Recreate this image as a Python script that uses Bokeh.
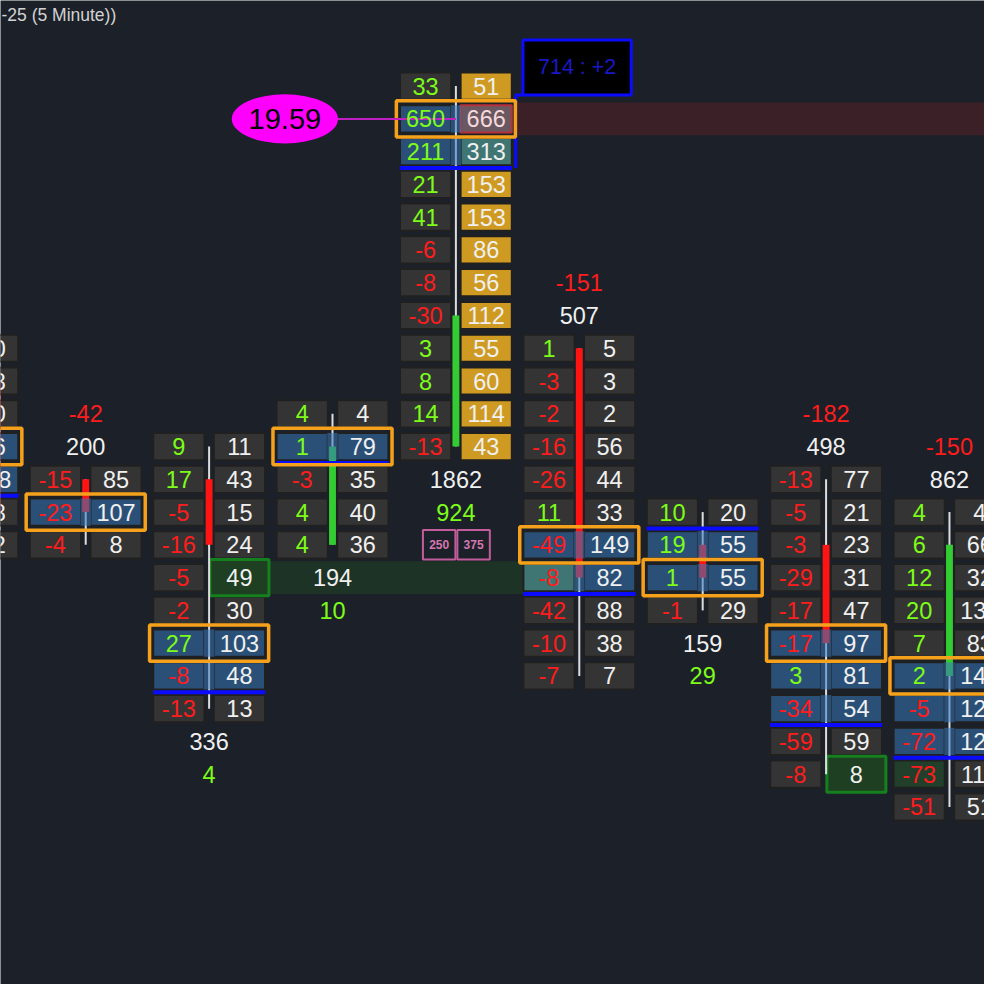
import math
from bokeh.plotting import figure
from bokeh.models import Range1d, ColumnDataSource
from bokeh.embed import file_html
from bokeh.resources import INLINE
from bokeh.core.properties import value

# ---------------- data ----------------
TITLE = "-25 (5 Minute))"
# price level of the first (top) row of each bar; rows go down one level each
bar_top = [22, 18, 19, 20, 30, 22, 17, 18, 17]
# left column (delta per price) and right column (volume per price), top -> bottom
left_vals = [
    [5, -2, 3, 11, -9, -4, -6],
    [-15, -23, -4],
    [9, 17, -5, -16, -5, -2, 27, -8, -13],
    [4, 1, -3, 4, 4],
    [33, 650, 211, 21, 41, -6, -8, -30, 3, 8, 14, -13],
    [1, -3, -2, -16, -26, 11, -49, -8, -42, -10, -7],
    [10, 19, 1, -1],
    [-13, -5, -3, -29, -17, -17, 3, -34, -59, -8],
    [4, 6, 12, 20, 7, 2, -5, -72, -73, -51],
]
right_vals = [
    [40, 28, 60, 96, 118, 38, 12],
    [85, 107, 8],
    [11, 43, 15, 24, 49, 30, 103, 48, 13],
    [4, 79, 35, 40, 36],
    [51, 666, 313, 153, 153, 86, 56, 112, 55, 60, 114, 43],
    [5, 3, 2, 56, 44, 33, 149, 82, 88, 38, 7],
    [20, 55, 55, 29],
    [77, 21, 23, 31, 47, 97, 81, 54, 59, 8],
    [4, 66, 32, 131, 83, 142, 121, 120, 112, 51],
]
# candles (price levels)
c_open = [21, 18, 18, 16, 19, 22, 16, 16, 12]
c_close = [17, 17, 16, 19, 23, 15, 15, 13, 16]
c_high = [22, 18, 19, 20, 30, 22, 17, 18, 17]
c_low = [16, 16, 11, 16, 19, 12, 14, 9, 8]
# value area and point of control
va_hi = [19, 17, 13, 19, 29, 16, 16, 13, 12]
va_lo = [18, 17, 12, 19, 28, 15, 15, 11, 10]
poc = [19, 17, 13, 19, 29, 16, 15, 13, 12]
va_line = [17.5, float("nan"), 11.5, 18.5, 27.5, 14.5, 16.5, 10.5, 9.5]
# highlighted cells (bar, level)
gold_cells = [(4, 30), (4, 27), (4, 26), (4, 25), (4, 24), (4, 23), (4, 22), (4, 21), (4, 20), (4, 19)]
node_cells = [(2, 15), (7, 9)]          # right column, green outlined
dark_green_left = [(8, 9)]
teal_cells = [("R", 4, 28), ("L", 5, 15)]
marked_cell = (4, 29)                    # right column, red outlined
red_band = (4, 29)                       # bar, level
green_band = (2, 5, 15)                  # from bar, to bar, level
poc_label = "19.59"
poc_label_bar = 4
box_label = "714 : +2"
note_bar = 4
note_labels = ["250", "375"]

# ---------------- layout / style ----------------
BAR0_X = -38.8
PITCH = 125.4
OFF = 30.8
CW = 52
CH = 0.83
TOP_LEVEL = 30
ROWPX = 33.3
FONT = value("Liberation Sans")

BG = "#1c2129"
GREY = "#343434"
BLUE = "#2b5078"
GOLD = "#cf9a22"
TEAL = "#3f7674"
GREEN_T = "#7dfc1a"
RED_T = "#ff1c1c"
WHITE_T = "#f0f0f0"

ylo = TOP_LEVEL - (1000 - 87) / ROWPX
yhi = TOP_LEVEL + (87 - 0) / ROWPX

p = figure(width=984, height=984, x_range=Range1d(0, 1000), y_range=Range1d(ylo, yhi),
           output_backend="svg", toolbar_location=None, min_border=0,
           x_axis_type=None, y_axis_type=None)
p.grid.visible = False
p.outline_line_color = None
p.background_fill_color = BG
p.border_fill_color = BG

xc = [BAR0_X + i * PITCH for i in range(len(bar_top))]

# bands
b, lv = red_band
p.quad(left=xc[b] + OFF + CW / 2 + 4, right=1000, top=lv + 0.5, bottom=lv - 0.5,
       fill_color="#3b2028", line_color=None)
b0, b1, lv = green_band
p.quad(left=xc[b0] + OFF + CW / 2, right=xc[b1], top=lv + 0.5, bottom=lv - 0.5,
       fill_color="#1d3325", line_color=None)

# cells
cells = dict(x=[], y=[], fill=[], line=[], txt=[], tc=[])
for bi in range(len(bar_top)):
    for k, (lvv, rvv) in enumerate(zip(left_vals[bi], right_vals[bi])):
        lvl = bar_top[bi] - k
        in_va = va_lo[bi] <= lvl <= va_hi[bi]
        # left
        f = BLUE if in_va else GREY
        if (bi, lvl) in dark_green_left:
            f = "#213f2a"
        if ("L", bi, lvl) in teal_cells:
            f = TEAL
        cells["x"].append(xc[bi] - OFF); cells["y"].append(lvl)
        cells["fill"].append(f); cells["line"].append("#202020")
        cells["txt"].append(str(lvv)); cells["tc"].append(GREEN_T if lvv > 0 else RED_T)
        # right
        f = BLUE if in_va else GREY
        if (bi, lvl) in gold_cells:
            f = GOLD
        if ("R", bi, lvl) in teal_cells:
            f = TEAL
        tc = WHITE_T
        ln = "#202020"
        if (bi, lvl) == marked_cell:
            f = "#6a5860"; tc = "#f6d8df"; ln = "#b8303c"
        if (bi, lvl) in node_cells:
            f = None
        cells["x"].append(xc[bi] + OFF); cells["y"].append(lvl)
        cells["fill"].append(f if f else BG); cells["line"].append(ln)
        cells["txt"].append(str(rvv)); cells["tc"].append(tc)

src = ColumnDataSource(cells)
p.rect(x="x", y="y", width=CW, height=CH, fill_color="fill", line_color="line",
       line_width=2, source=src)

# green nodes
p.rect(x=[xc[b] + OFF for b, _ in node_cells], y=[l for _, l in node_cells],
       width=60, height=1.1, fill_color="#1f3f22", line_color="#15801e", line_width=3)

# candles
p.segment(x0=xc, y0=c_high, x1=xc, y1=c_low, line_color="#dcdcdc", line_width=2)
p.vbar(x=xc, top=[max(o, c) for o, c in zip(c_open, c_close)],
       bottom=[min(o, c) for o, c in zip(c_open, c_close)], width=7,
       fill_color=["#33cc33" if c > o else "#ff1414" for o, c in zip(c_open, c_close)],
       line_color=None)

# value-area gap overlay
gx, gy = [], []
for bi in range(len(bar_top)):
    for lvl in range(va_lo[bi], va_hi[bi] + 1):
        gx.append(xc[bi]); gy.append(lvl)
p.rect(x=gx, y=gy, width=2 * OFF - CW + 1, height=CH, fill_color="#3776b9",
       fill_alpha=0.55, line_color=None)

# value area lines
p.segment(x0=[x - 57 for x in xc], y0=va_line, x1=[x + 57 for x in xc], y1=va_line,
          line_color="#0b0bff", line_width=4)

# connector + info box
bx_center, bx_level, bx_h = 586, TOP_LEVEL + 0.57, 1.68
vx = xc[4] + OFF + CW / 2 + 4
p.line(x=[vx, vx, bx_center - 55], y=[va_line[4], bx_level - bx_h / 2, bx_level - bx_h / 2],
       line_color="#0b0bff", line_width=3)
p.rect(x=[bx_center], y=[bx_level], width=110, height=bx_h, fill_color="#000000",
       line_color="#0b0bff", line_width=3)
p.text(x=[bx_center], y=[bx_level], text=[box_label], text_font=FONT,
       text_font_size=value("21.5px"), text_color="#1818c8", text_align="center",
       text_baseline="middle")

# orange POC boxes
p.rect(x=xc, y=poc, width=121, height=1.11, fill_color=None, line_color="#f6a11c",
       line_width=3.5)

# magenta POC label
ex = 289
p.line(x=[ex + 50, xc[poc_label_bar]], y=[poc[poc_label_bar]] * 2, line_color="#c020c0",
       line_width=2)
p.ellipse(x=[ex], y=[poc[poc_label_bar]], width=108, height=1.5, fill_color="#ff00ff",
          line_color=None)
p.text(x=[ex], y=[poc[poc_label_bar]], text=[poc_label], text_font=FONT,
       text_font_size=value("29px"), text_color="#000000", text_align="center",
       text_baseline="middle")

# cell texts
p.text(x="x", y="y", text="txt", text_color="tc", text_font=FONT,
       text_font_size=value("23.5px"), text_align="center", text_baseline="middle",
       source=src)

# summaries
sx, sy, st, sc = [], [], [], []
for bi in range(len(bar_top)):
    vol = sum(right_vals[bi]); dl = sum(left_vals[bi])
    bottom = bar_top[bi] - len(right_vals[bi]) + 1
    if dl < 0:
        ys = (bar_top[bi] + 1, bar_top[bi] + 2)
    else:
        ys = (bottom - 1, bottom - 2)
    sx += [xc[bi], xc[bi]]; sy += list(ys)
    st += [str(vol), str(dl)]; sc += [WHITE_T, GREEN_T if dl >= 0 else RED_T]
p.text(x=sx, y=sy, text=st, text_color=sc, text_font=FONT,
       text_font_size=value("23.5px"), text_align="center", text_baseline="middle")

# notes under bar 4
nb_bottom = bar_top[note_bar] - len(right_vals[note_bar]) + 1 - 3
nx = [xc[note_bar] - 17, xc[note_bar] + 18]
p.rect(x=nx, y=[nb_bottom] * 2, width=33, height=0.9, fill_color=None,
       line_color="#c25d9c", line_width=2)
p.text(x=nx, y=[nb_bottom] * 2, text=note_labels, text_font=FONT,
       text_font_size=value("12px"), text_font_style="bold", text_color="#d676b0",
       text_align="center", text_baseline="middle")

# title
p.text(x=[1], y=[TOP_LEVEL + (87 - 15) / ROWPX], text=[TITLE], text_font=FONT,
       text_font_size=value("17.5px"), text_color="#d2d2d2", text_align="left",
       text_baseline="middle")

open("out.html", "w").write(file_html(p, INLINE))
